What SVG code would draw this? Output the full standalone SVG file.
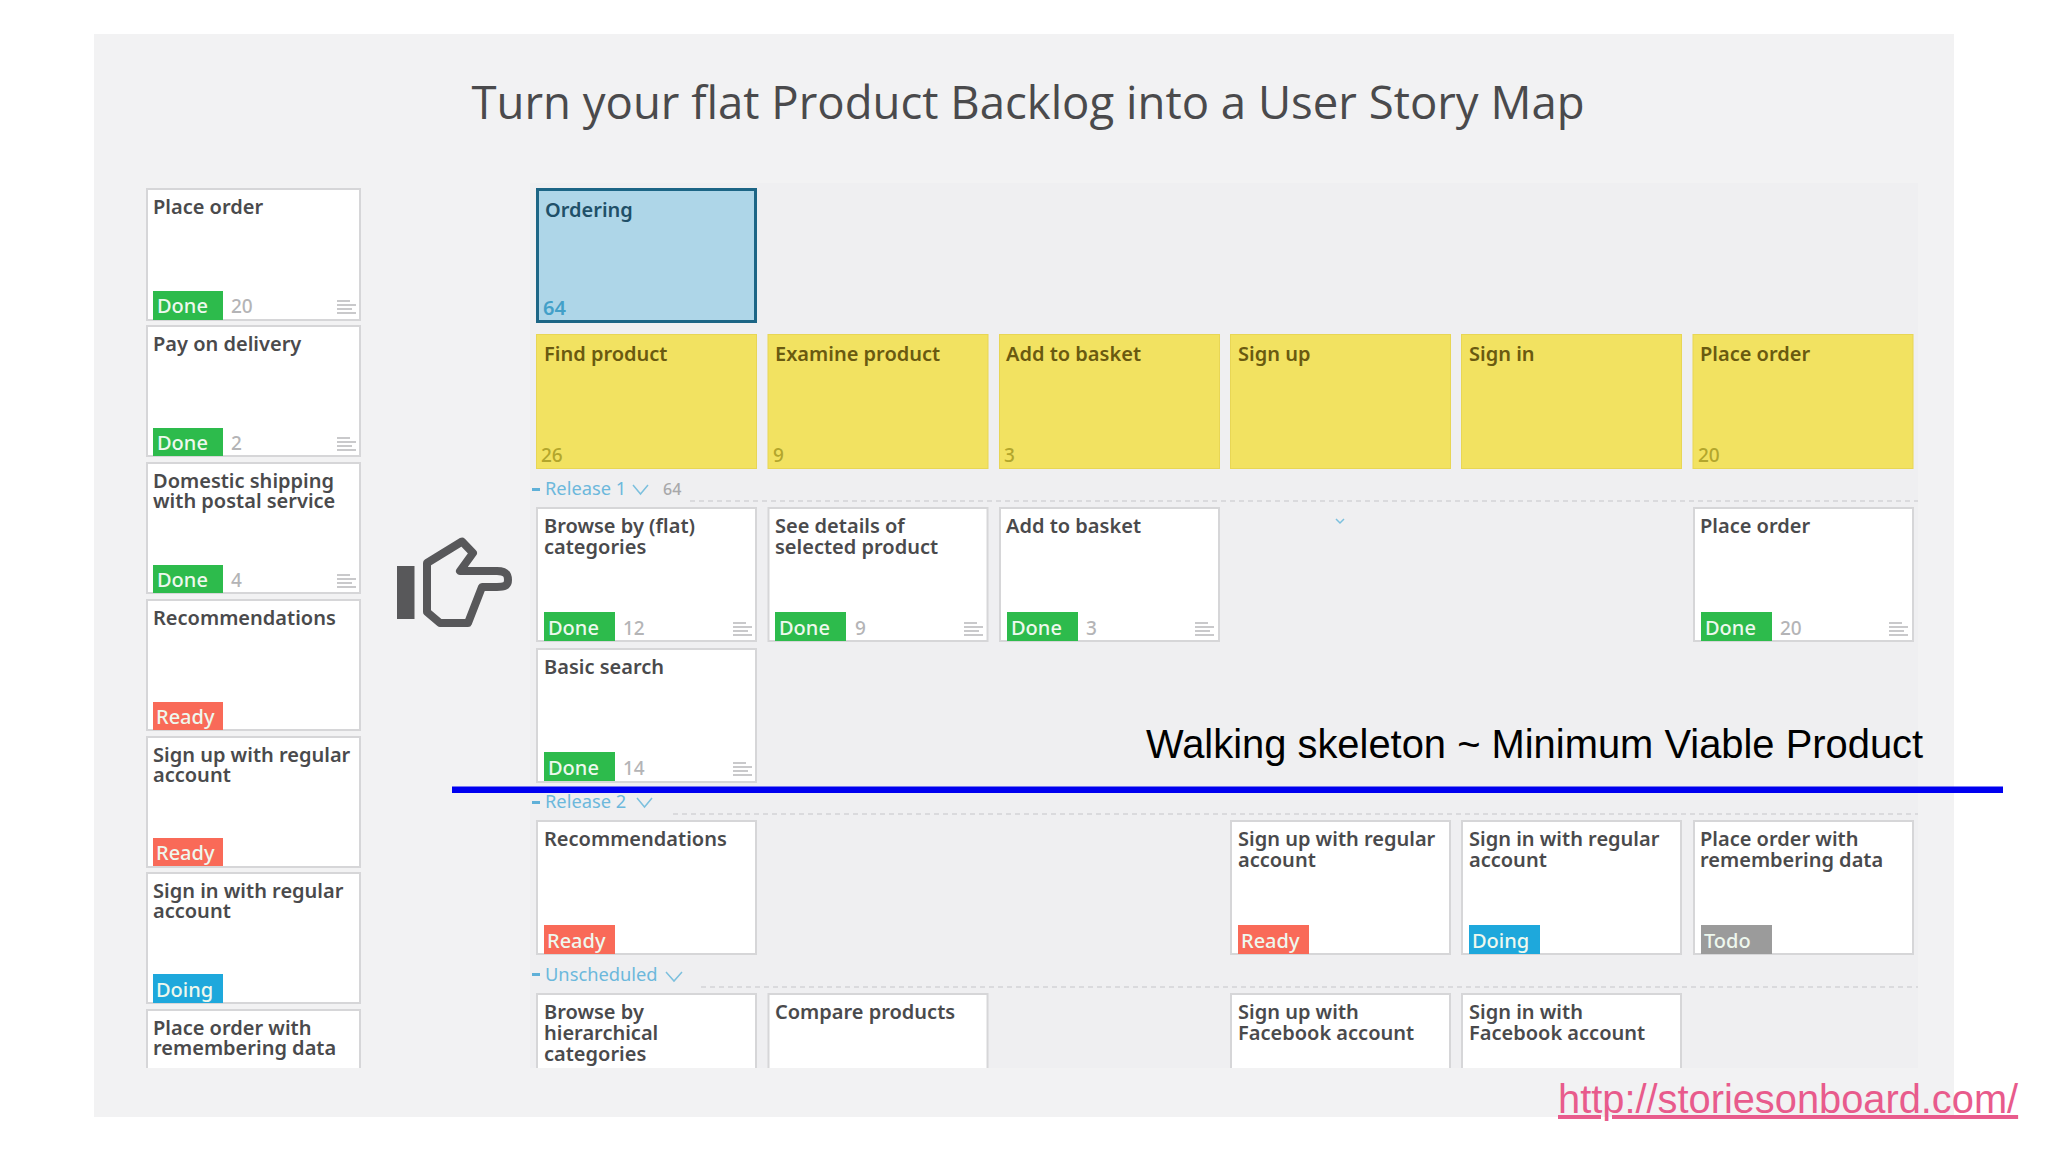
<svg xmlns="http://www.w3.org/2000/svg" width="2048" height="1152" viewBox="0 0 2048 1152">
<style>
text{font-family:"Noto Sans","Open Sans",sans-serif}
.card{fill:#fff;stroke:#d6d6d8;stroke-width:2}
.t{font-size:20px;font-weight:600;fill:#4a4a4c;transform:translateY(.2px)}
.s{font-size:20px;font-weight:500;fill:#eef8ee;transform:translate(-1px,-.5px)}
.c{font-size:19px;font-weight:500;fill:#b4b4b6}
.done{fill:#2dbb4c}.ready{fill:#f96a58}.doing{fill:#1ea8dc}.todo{fill:#9b9b9b}
.y{fill:#f2e261;stroke:#e8d655;stroke-width:1}
.yt{font-size:20px;font-weight:600;fill:#6a5a10}
.yc{font-size:19px;font-weight:500;fill:#b3a62c}
.rel{font-size:18.3px;fill:#6cb8dc}
.dash{stroke:#d4d4d6;stroke-width:1.5;stroke-dasharray:5 4;fill:none}
.chev{stroke:#7cc0de;stroke-width:1.5;fill:none}
</style>
<defs>
<g id="menu" stroke="#b8b8ba" stroke-width="1.6" fill="none"><path d="M0 1H13M0 5H19M0 9H15M0 13H19"/></g>
<clipPath id="clip"><rect x="0" y="0" width="2048" height="1068"/></clipPath>
</defs>
<rect width="2048" height="1152" fill="#fff"/>
<rect id="panel" x="94" y="34" width="1860" height="1083" fill="#f2f2f3"/>
<rect id="board" x="530" y="183" width="1388" height="885" fill="#efeff1"/>
<text id="title" x="1028" y="119" text-anchor="middle" font-size="45.500" style="font-family:'Open Sans',sans-serif" fill="#4a4a4c">Turn your flat Product Backlog into a User Story Map</text>

<g id="backlog" clip-path="url(#clip)">
<g id="b1"><rect class="card" x="147" y="189" width="213" height="131"/><text class="t" x="153" y="214">Place order</text><rect class="done" x="153" y="291" width="70" height="29"/><text class="s" x="158" y="313">Done</text><text class="c" x="231" y="313">20</text><use href="#menu" x="337" y="300"/></g>
<g id="b2"><rect class="card" x="147" y="326" width="213" height="130"/><text class="t" x="153" y="351">Pay on delivery</text><rect class="done" x="153" y="428" width="70" height="28"/><text class="s" x="158" y="450">Done</text><text class="c" x="231" y="450">2</text><use href="#menu" x="337" y="437"/></g>
<g id="b3"><rect class="card" x="147" y="463" width="213" height="130"/><text class="t" x="153" y="488">Domestic shipping<tspan x="153" dy="20">with postal service</tspan></text><rect class="done" x="153" y="565" width="70" height="28"/><text class="s" x="158" y="587">Done</text><text class="c" x="231" y="587">4</text><use href="#menu" x="337" y="574"/></g>
<g id="b4"><rect class="card" x="147" y="600" width="213" height="130"/><text class="t" x="153" y="625">Recommendations</text><rect class="ready" x="153" y="702" width="70" height="28"/><text class="s" x="157" y="724">Ready</text></g>
<g id="b5"><rect class="card" x="147" y="737" width="213" height="130"/><text class="t" x="153" y="762">Sign up with regular<tspan x="153" dy="20">account</tspan></text><rect class="ready" x="153" y="838" width="70" height="28"/><text class="s" x="157" y="860">Ready</text></g>
<g id="b6"><rect class="card" x="147" y="873" width="213" height="130"/><text class="t" x="153" y="898">Sign in with regular<tspan x="153" dy="20">account</tspan></text><rect class="doing" x="153" y="974" width="70" height="29"/><text class="s" x="157" y="997">Doing</text></g>
<g id="b7"><rect class="card" x="147" y="1010" width="213" height="130"/><text class="t" x="153" y="1035">Place order with<tspan x="153" dy="20">remembering data</tspan></text></g>
</g>

<g id="hand" fill="none" stroke="#58585a" stroke-width="8" stroke-linejoin="round">
<rect x="397" y="566" width="17.500" height="53" fill="#58585a" stroke="none"/>
<path d="M427 563L462 541.500L473 553L460 571H497C507 571 508 576 508 580C508 586 504 587 497 587H482L468 623H440L427 612Z"/>
</g>

<g id="ordering"><rect x="537.500" y="189.500" width="218" height="132" fill="#aed6e8" stroke="#1c6585" stroke-width="3"/><text x="545" y="217" font-size="20" font-weight="600" fill="#1f5068">Ordering</text><text x="543" y="315" font-size="20" font-weight="600" fill="#42a0c8">64</text></g>

<g id="a1"><rect class="y" x="536.500" y="334.500" width="220" height="134"/><text class="yt" x="544" y="361">Find product</text><text class="yc" x="541" y="462">26</text></g>
<g id="a2"><rect class="y" x="768" y="334.500" width="220" height="134"/><text class="yt" x="775" y="361">Examine product</text><text class="yc" x="773" y="462">9</text></g>
<g id="a3"><rect class="y" x="999.500" y="334.500" width="220" height="134"/><text class="yt" x="1006" y="361">Add to basket</text><text class="yc" x="1004" y="462">3</text></g>
<g id="a4"><rect class="y" x="1230.500" y="334.500" width="220" height="134"/><text class="yt" x="1238" y="361">Sign up</text></g>
<g id="a5"><rect class="y" x="1461.500" y="334.500" width="220" height="134"/><text class="yt" x="1469" y="361">Sign in</text></g>
<g id="a6"><rect class="y" x="1693" y="334.500" width="220" height="134"/><text class="yt" x="1700" y="361">Place order</text><text class="yc" x="1698" y="462">20</text></g>

<g id="connectors">
<path class="dash" d="M690 501H1918M673 814H1918M701 987H1918"/>
<path class="chev" d="M633 485L640.500 494L648 485M637 798L644.500 807L652 798M666 972L674 981L682 972"/>
<path d="M1336 519L1340 523L1344 519" fill="none" stroke="#7cc0de" stroke-width="1.500"/>
</g>

<g id="release1"><rect x="532" y="488" width="8" height="3" fill="#5fb0d8"/><text class="rel" x="545" y="495">Release 1</text><text x="663" y="495" font-size="16" font-weight="500" fill="#a8a8aa">64</text></g>
<g id="release2"><rect x="532" y="801" width="8" height="3" fill="#5fb0d8"/><text class="rel" x="545" y="808">Release 2</text></g>
<g id="unscheduled"><rect x="532" y="973" width="8" height="3" fill="#5fb0d8"/><text class="rel" x="545" y="981">Unscheduled</text></g>

<g id="r1a"><rect class="card" x="537" y="508" width="219" height="133"/><text class="t" x="544" y="533">Browse by (flat)<tspan x="544" dy="21">categories</tspan></text><rect class="done" x="544" y="612" width="71" height="29"/><text class="s" x="549" y="635">Done</text><text class="c" x="623" y="635">12</text><use href="#menu" x="733" y="622"/></g>
<g id="r1b"><rect class="card" x="768.500" y="508" width="219" height="133"/><text class="t" x="775" y="533">See details of<tspan x="775" dy="21">selected product</tspan></text><rect class="done" x="775" y="612" width="71" height="29"/><text class="s" x="780" y="635">Done</text><text class="c" x="855" y="635">9</text><use href="#menu" x="964" y="622"/></g>
<g id="r1c"><rect class="card" x="1000" y="508" width="219" height="133"/><text class="t" x="1006" y="533">Add to basket</text><rect class="done" x="1007" y="612" width="71" height="29"/><text class="s" x="1012" y="635">Done</text><text class="c" x="1086" y="635">3</text><use href="#menu" x="1195" y="622"/></g>
<g id="r1d"><rect class="card" x="1694" y="508" width="219" height="133"/><text class="t" x="1700" y="533">Place order</text><rect class="done" x="1701" y="612" width="71" height="29"/><text class="s" x="1706" y="635">Done</text><text class="c" x="1780" y="635">20</text><use href="#menu" x="1889" y="622"/></g>
<g id="r1e"><rect class="card" x="537" y="649" width="219" height="133"/><text class="t" x="544" y="674">Basic search</text><rect class="done" x="544" y="752" width="71" height="29"/><text class="s" x="549" y="775">Done</text><text class="c" x="623" y="775">14</text><use href="#menu" x="733" y="762"/></g>

<g id="r2a"><rect class="card" x="537" y="821" width="219" height="133"/><text class="t" x="544" y="846">Recommendations</text><rect class="ready" x="544" y="925" width="71" height="29"/><text class="s" x="548" y="948">Ready</text></g>
<g id="r2b"><rect class="card" x="1231" y="821" width="219" height="133"/><text class="t" x="1238" y="846">Sign up with regular<tspan x="1238" dy="21">account</tspan></text><rect class="ready" x="1238" y="925" width="71" height="29"/><text class="s" x="1242" y="948">Ready</text></g>
<g id="r2c"><rect class="card" x="1462" y="821" width="219" height="133"/><text class="t" x="1469" y="846">Sign in with regular<tspan x="1469" dy="21">account</tspan></text><rect class="doing" x="1469" y="925" width="71" height="29"/><text class="s" x="1473" y="948">Doing</text></g>
<g id="r2d"><rect class="card" x="1694" y="821" width="219" height="133"/><text class="t" x="1700" y="846">Place order with<tspan x="1700" dy="21">remembering data</tspan></text><rect class="todo" x="1701" y="925" width="71" height="29"/><text class="s" x="1705" y="948">Todo</text></g>

<g id="unsched" clip-path="url(#clip)">
<g id="u1"><rect class="card" x="537" y="994" width="219" height="133"/><text class="t" x="544" y="1019">Browse by<tspan x="544" dy="21">hierarchical</tspan><tspan x="544" dy="21">categories</tspan></text></g>
<g id="u2"><rect class="card" x="768.500" y="994" width="219" height="133"/><text class="t" x="775" y="1019">Compare products</text></g>
<g id="u3"><rect class="card" x="1231" y="994" width="219" height="133"/><text class="t" x="1238" y="1019">Sign up with<tspan x="1238" dy="21">Facebook account</tspan></text></g>
<g id="u4"><rect class="card" x="1462" y="994" width="219" height="133"/><text class="t" x="1469" y="1019">Sign in with<tspan x="1469" dy="21">Facebook account</tspan></text></g>
</g>

<rect id="mvp-line" x="452" y="786.500" width="1551" height="6.500" fill="#0000f0"/>
<text id="mvp" x="1146" y="758" font-size="39.900" fill="#000" style="font-family:'Liberation Sans',Arial,sans-serif">Walking skeleton ~ Minimum Viable Product</text>
<text id="url" x="1558" y="1113" font-size="39.800" fill="#e85b8c" text-decoration="underline" style="font-family:'Liberation Sans',Arial,sans-serif">http://storiesonboard.com/</text>
</svg>
